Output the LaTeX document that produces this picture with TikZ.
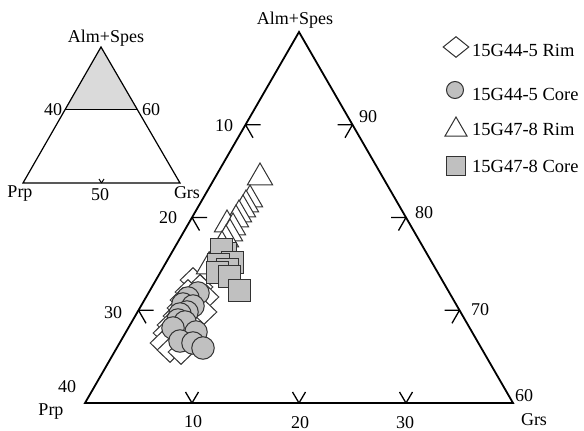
\documentclass[tikz,border=0pt]{standalone}
\usepackage{fontspec}
\setmainfont{Liberation Serif}
\usetikzlibrary{shapes.geometric,calc}
\definecolor{mfill}{RGB}{192,192,192}
\definecolor{shadefill}{RGB}{218,218,218}
\definecolor{mline}{RGB}{50,50,50}
\begin{document}
\begin{tikzpicture}[x=1pt,y=-1pt,
  lbl/.style={font=\fontsize{18}{20}\selectfont, inner sep=0pt, anchor=base},
  leg/.style={font=\fontsize{18.5}{20}\selectfont, inner sep=0pt, anchor=base west},
  axisline/.style={line width=1.8pt, line join=miter},
  tickline/.style={line width=1.3pt},
  insetline/.style={line width=1.2pt, line join=miter},
  dia/.style={draw=mline, fill=white, diamond, minimum width=26pt, minimum height=25pt, inner sep=0pt, line width=1pt},
  circ/.style={draw=mline, fill=mfill, circle, minimum size=22.5pt, inner sep=0pt, line width=1pt},
  tri/.style={draw=mline, fill=white, regular polygon, regular polygon sides=3, minimum size=29pt, inner sep=0pt, line width=1pt},
  sq/.style={draw=mline, fill=mfill, rectangle, minimum size=22pt, inner sep=0pt, line width=1pt},
]
\useasboundingbox (0,0) rectangle (584,431);

% ---------- inset triangle ----------
\coordinate (ia) at (101,47);
\coordinate (ip) at (23,183);
\coordinate (ig) at (180,183);
\coordinate (is1) at ($(ia)!0.46!(ip)$);
\coordinate (is2) at ($(ia)!0.46!(ig)$);
\coordinate (im) at ($(ip)!0.5!(ig)$);
\fill[shadefill] (ia) -- (is1) -- (is2) -- cycle;
\draw[insetline] (is1) -- (is2);
\draw[insetline] (ia) -- (ip) -- (ig) -- cycle;
\draw[line width=1pt] (im) -- ++(-2.5,-4) (im) -- ++(2.5,-4);
\node[lbl] (iAlm) at (106,42) {Alm+Spes};
\node[lbl] (i40) at (53,115) {40};
\node[lbl] (i60) at (151,115) {60};
\node[lbl] (iPrp) at (20,197) {Prp};
\node[lbl] (i50) at (100,200) {50};
\node[lbl] (iGrs) at (187,198) {Grs};

% ---------- main triangle ----------
\coordinate (A) at (299,32);
\coordinate (P) at (85,403);
\coordinate (G) at (513,403);
\draw[axisline] (A) -- (P) -- (G) -- cycle;

\foreach \k/\n in {0.25/1,0.5/2,0.75/3}{
  \coordinate (L\n) at ($(A)!\k!(P)$);
  \coordinate (R\n) at ($(A)!\k!(G)$);
  \coordinate (B\n) at ($(P)!\k!(G)$);
  \draw[tickline] (L\n) -- ++(15,0) (L\n) -- ++(7.5,13);
  \draw[tickline] (R\n) -- ++(-15,0) (R\n) -- ++(-7.5,13);
  \draw[tickline] (B\n) -- ++(-6.5,-11) (B\n) -- ++(6.5,-11);
}

\node[lbl] (tAlm) at (295,24) {Alm+Spes};
\node[lbl] (l10) at (224,131) {10};
\node[lbl] (l20) at (168,223) {20};
\node[lbl] (l30) at (113,318) {30};
\node[lbl] (l40) at (67,392) {40};
\node[lbl] (lPrp) at (51,415) {Prp};
\node[lbl] (r90) at (368,122) {90};
\node[lbl] (r80) at (424,218) {80};
\node[lbl] (r70) at (480,315) {70};
\node[lbl] (r60) at (524,401) {60};
\node[lbl] (rGrs) at (534,425) {Grs};
\node[lbl] (b10) at (193,427) {10};
\node[lbl] (b20) at (300,428) {20};
\node[lbl] (b30) at (405,428) {30};

% ---------- data: 15G44-5 Rim (diamonds) ----------
\foreach \x/\y [count=\i] in {193/280,200/287,206/297,188/292,183/300,180/308,176/316,170/325,166/333,163/343,170/350,181/352,204/312}{
  \node[dia] (d\i) at (\x,\y) {};
}
% ---------- data: 15G44-5 Core (circles) ----------
\foreach \x/\y [count=\i] in {198/293,188/298,183/304,193/306,187/312,180/314,178/320,185/322,173/328,196/332,180/341,193/343,203/348}{
  \node[circ] (c\i) at (\x,\y) {};
}
% ---------- data: 15G47-8 Rim (triangles) ----------
\foreach \x/\y [count=\i] in {260/163,250/185,246/190,243/195,239/200,236/205,227/210,233/213,230/219,226/225,222/231,214/245,209/252}{
  \node[tri] (t\i) at (\x,\y+14.5) {};
}
% ---------- data: 15G47-8 Core (squares) ----------
\foreach \x/\y [count=\i] in {225/253,221/249,232/262,218/264,227/269,217/272,229/276,239/290}{
  \node[sq] (s\i) at (\x,\y) {};
}

% ---------- legend ----------
\node[dia, minimum width=26pt, minimum height=21pt] (kd) at (456,47) {};
\node[circ, minimum size=17pt] (kc) at (455,90) {};
\node[tri, minimum size=25.4pt] (kt) at (456,129.7) {};
\node[sq, minimum size=19pt] (ks) at (456,166) {};
\node[leg] (kdl) at (472,56) {15G44-5 Rim};
\node[leg] (kcl) at (472,100) {15G44-5 Core};
\node[leg] (ktl) at (472,135) {15G47-8 Rim};
\node[leg] (ksl) at (472,172) {15G47-8 Core};
\end{tikzpicture}
\end{document}
